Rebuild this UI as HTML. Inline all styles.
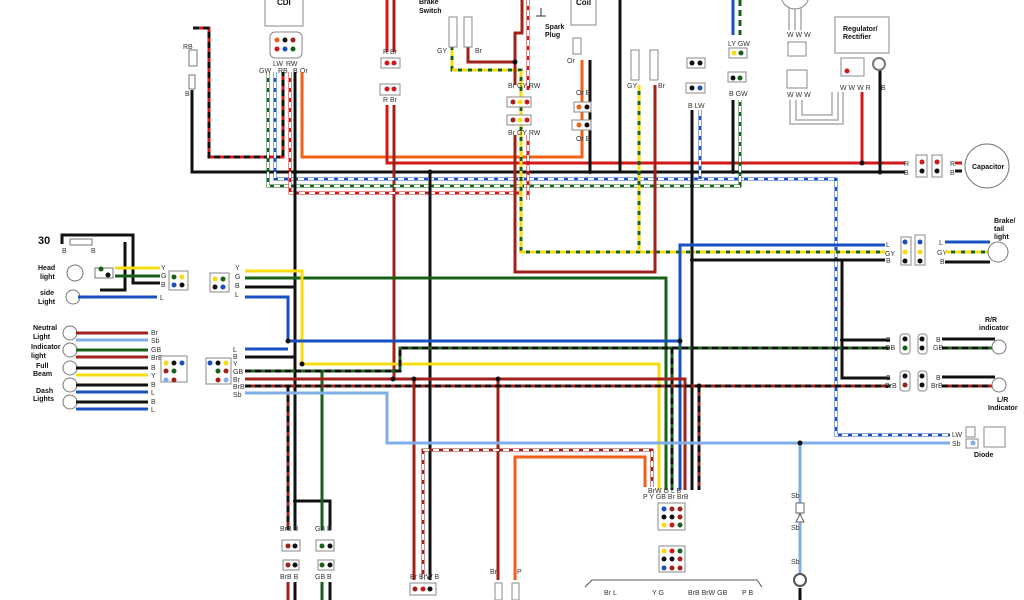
<!DOCTYPE html>
<html><head><meta charset="utf-8"><style>
html,body{margin:0;padding:0;background:#fff;}
svg{display:block}
text{font-family:"Liberation Sans",sans-serif;font-size:7px;fill:#333}
.b{font-weight:bold;font-size:8px;fill:#111}
path{fill:none;stroke-width:3}
.k{stroke:#111}.r{stroke:#d01818}.br{stroke:#a0201a}.o{stroke:#f06018}.y{stroke:#f8dc10}.g{stroke:#186018}.l{stroke:#1850c0}.sb{stroke:#80aee8}
.d{stroke-dasharray:6 4}
.wd{stroke:#fff;stroke-dasharray:6 4;stroke-width:2}
.t{stroke:#aaa;stroke-width:1.5}
</style></head><body>
<svg width="1024" height="600" viewBox="0 0 1024 600">
<!-- CDI -->
<rect x="265" y="-2" width="38" height="28" fill="#fff" stroke="#888"/>
<text x="277" y="5" class="b">CDI</text>
<rect x="270" y="32" width="32" height="26" rx="5" fill="#fff" stroke="#888"/>
<circle cx="277" cy="40" r="2.5" fill="#f06018"/><circle cx="285" cy="40" r="2.5" fill="#111"/><circle cx="293" cy="40" r="2.5" fill="#a0201a"/>
<circle cx="277" cy="49" r="2.5" fill="#d01818"/><circle cx="285" cy="49" r="2.5" fill="#1850c0"/><circle cx="293" cy="49" r="2.5" fill="#186018"/>
<text x="273" y="66">LW</text><text x="286" y="66">RW</text>
<text x="259" y="73">GW</text><text x="278" y="73">RB</text><text x="293" y="73">B</text><text x="300" y="73">Or</text>

<!-- main buses -->
<path class="k" d="M192 90V172H905"/>
<path class="r" d="M193 28H209V157H283V72"/><path class="k d" d="M193 28H209V157H283V72"/>
<rect x="189" y="50" width="8" height="16" fill="#fff" stroke="#777"/><rect x="189" y="75" width="6" height="14" fill="#fff" stroke="#777"/>
<text x="183" y="49">RB</text><text x="185" y="96">B</text>
<path class="o" d="M302 72V157H582V60"/>
<path class="r" d="M387 105V163H905"/><path class="r" d="M387 0V52"/><path class="br" d="M394 0V52M394 105V379"/>
<path class="r" d="M862 92V163"/><path class="k" d="M880 70V172"/>
<path class="l" d="M275 72V179H836V435H950"/><path class="wd" d="M275 72V179H836V435H950"/>
<path class="l" d="M700 110V179"/><path class="wd" d="M700 110V179"/>
<path class="g" d="M268 72V186H740V100"/><path class="wd" d="M268 72V186H740V100"/>
<path class="r" d="M290 72V193H522"/><path class="wd" d="M290 72V193H522"/>
<path class="g" d="M452 20V70H521V252H885"/><path class="y d" d="M452 20V70H521V252H885"/>
<path class="g" d="M639 85V252"/><path class="y d" d="M639 85V252"/>
<path class="br" d="M468 20V62H515V33H522V0M515 62V85M515 135V272H655V85"/>
<path class="r" d="M528 0V90M528 135V200"/><path class="wd" d="M528 0V90M528 135V200"/>
<path class="k" d="M590 60V172M620 0V172M692 110V490M733 100V172M430 172V580"/>
<path class="k" d="M295 72V530M295 501H330V530"/>
<!-- middle -->
<path class="g" d="M245 278H666V490"/>
<path class="y" d="M245 271H302V364H659V490"/>
<path class="l" d="M245 297H288V341H680M245 349H288M680 490V245H885"/>
<path class="k" d="M692 260H885M842 260V378H890M842 340H890M245 287H295M245 357H295"/>
<path class="g" d="M245 371H400V348H890M672 348V490M322 371V530"/><path class="k d" d="M245 371H400V348H890M672 348V490"/>
<path class="br" d="M245 379H685V490M414 379V580M498 379V580"/>
<path class="br" d="M245 386H890M699 386V490M288 386V530"/><path class="k d" d="M245 386H890M699 386V490M288 386V530"/>
<path class="sb" d="M245 393H387V443H950M800 443V580"/>
<path class="br" d="M423 580V450H652V487"/><path class="wd" d="M423 580V450H652V487"/>
<path class="o" d="M515 580V457H645V487"/>
<g fill="#111"><circle cx="295" cy="172" r="2.5"/><circle cx="430" cy="172" r="2.5"/><circle cx="288" cy="341" r="2.5"/><circle cx="302" cy="364" r="2.5"/><circle cx="680" cy="341" r="2.5"/><circle cx="393" cy="379" r="2.5"/><circle cx="414" cy="379" r="2.5"/><circle cx="498" cy="379" r="2.5"/><circle cx="699" cy="386" r="2.5"/><circle cx="800" cy="443" r="2.5"/><circle cx="295" cy="501" r="2"/><circle cx="862" cy="163" r="2.5"/><circle cx="880" cy="172" r="2.5"/><circle cx="842" cy="340" r="2"/><circle cx="692" cy="260" r="2"/><circle cx="515" cy="62" r="2.5"/><circle cx="733" cy="172" r="2"/><circle cx="590" cy="172" r="2"/></g>

<!-- left lamps -->
<text x="38" y="244" style="font-size:11px;font-weight:bold;fill:#111">30</text>
<path class="k" d="M62 244V235H133V283H160M125 242V290H100"/>
<rect x="70" y="239" width="22" height="6" fill="#fff" stroke="#777"/>
<text x="62" y="253">B</text><text x="91" y="253">B</text>
<text x="38" y="270" class="b" style="font-size:7px">Head</text><text x="40" y="279" class="b" style="font-size:7px">light</text>
<circle cx="75" cy="273" r="8" fill="#fff" stroke="#777"/>
<path class="y" d="M115 268H160"/><path class="g" d="M115 276H160"/><text x="161" y="270">Y</text><text x="161" y="278">G</text><text x="161" y="287">B</text>
<rect x="95" y="268" width="18" height="10" fill="#fff" stroke="#777"/><circle cx="101" cy="269" r="2.5" fill="#186018"/><circle cx="108" cy="275" r="2.5" fill="#111"/>
<text x="40" y="295" class="b" style="font-size:7px">side</text><text x="38" y="304" class="b" style="font-size:7px">Light</text>
<circle cx="73" cy="297" r="7" fill="#fff" stroke="#777"/><path class="l" d="M78 297H157"/><text x="160" y="300">L</text>
<rect x="169" y="271" width="19" height="19" fill="#fff" stroke="#888"/>
<circle cx="174" cy="277" r="2.5" fill="#186018"/><circle cx="182" cy="277" r="2.5" fill="#f8dc10"/><circle cx="174" cy="285" r="2.5" fill="#1850c0"/><circle cx="182" cy="285" r="2.5" fill="#111"/>
<rect x="210" y="273" width="19" height="19" fill="#fff" stroke="#888"/>
<circle cx="215" cy="279" r="2.5" fill="#f8dc10"/><circle cx="223" cy="279" r="2.5" fill="#186018"/><circle cx="215" cy="287" r="2.5" fill="#111"/><circle cx="223" cy="287" r="2.5" fill="#1850c0"/>
<text x="235" y="270">Y</text><text x="235" y="279">G</text><text x="235" y="288">B</text><text x="235" y="297">L</text>

<text x="33" y="330" class="b" style="font-size:7px">Neutral</text><text x="33" y="339" class="b" style="font-size:7px">Light</text>
<text x="31" y="349" class="b" style="font-size:7px">Indicator</text><text x="31" y="358" class="b" style="font-size:7px">light</text>
<text x="36" y="368" class="b" style="font-size:7px">Full</text><text x="33" y="376" class="b" style="font-size:7px">Beam</text>
<text x="36" y="393" class="b" style="font-size:7px">Dash</text><text x="33" y="401" class="b" style="font-size:7px">Lights</text>
<g fill="#fff" stroke="#777"><circle cx="70" cy="333" r="7"/><circle cx="70" cy="350" r="7"/><circle cx="70" cy="368" r="7"/><circle cx="70" cy="385" r="7"/><circle cx="70" cy="402" r="7"/></g>
<path class="br" d="M76 333H148"/><path class="sb" d="M76 340H148"/>
<path class="g" d="M76 350H148"/><path class="br" d="M76 357H148"/>
<path class="k" d="M76 368H148M76 385H148M76 402H148"/><path class="y" d="M76 375H148"/>
<path class="l" d="M76 392H148M76 409H148"/>
<text x="151" y="335">Br</text><text x="151" y="343">Sb</text><text x="151" y="352">GB</text><text x="151" y="360">BrB</text><text x="151" y="370">B</text><text x="151" y="378">Y</text><text x="151" y="387">B</text><text x="151" y="395">L</text><text x="151" y="404">B</text><text x="151" y="412">L</text>
<rect x="161" y="356" width="26" height="26" fill="#fff" stroke="#888"/>
<circle cx="166" cy="363" r="2.5" fill="#f8dc10"/><circle cx="174" cy="363" r="2.5" fill="#111"/><circle cx="182" cy="363" r="2.5" fill="#1850c0"/>
<circle cx="166" cy="371" r="2.5" fill="#a0201a"/><circle cx="174" cy="371" r="2.5" fill="#186018"/>
<circle cx="166" cy="380" r="2.5" fill="#80aee8"/><circle cx="174" cy="380" r="2.5" fill="#a0201a"/>
<rect x="206" y="358" width="25" height="26" fill="#fff" stroke="#888"/>
<circle cx="210" cy="363" r="2.5" fill="#1850c0"/><circle cx="218" cy="363" r="2.5" fill="#111"/><circle cx="226" cy="363" r="2.5" fill="#f8dc10"/>
<circle cx="218" cy="371" r="2.5" fill="#186018"/><circle cx="226" cy="371" r="2.5" fill="#a0201a"/>
<circle cx="218" cy="380" r="2.5" fill="#a0201a"/><circle cx="226" cy="380" r="2.5" fill="#80aee8"/>
<text x="233" y="352">L</text><text x="233" y="359">B</text><text x="233" y="366">Y</text><text x="233" y="374">GB</text><text x="233" y="382">Br</text><text x="233" y="389">BrB</text><text x="233" y="397">Sb</text>

<!-- top connectors -->
<rect x="381" y="58" width="19" height="10" fill="#fff" stroke="#888"/><circle cx="387" cy="63" r="2.5" fill="#d01818"/><circle cx="394" cy="63" r="2.5" fill="#d01818"/>
<rect x="380" y="84" width="20" height="11" fill="#fff" stroke="#888"/><circle cx="387" cy="89" r="2.5" fill="#d01818"/><circle cx="394" cy="89" r="2.5" fill="#d01818"/>
<text x="383" y="54">R Br</text><text x="383" y="102">R Br</text>
<text x="419" y="4" class="b" style="font-size:7px">Brake</text><text x="419" y="13" class="b" style="font-size:7px">Switch</text>
<rect x="449" y="17" width="8" height="30" fill="#fff" stroke="#888"/><rect x="464" y="17" width="8" height="30" fill="#fff" stroke="#888"/>
<text x="437" y="53">GY</text><text x="475" y="53">Br</text>
<text x="508" y="88">Br GY RW</text>
<rect x="507" y="97" width="24" height="10" fill="#fff" stroke="#888"/><circle cx="513" cy="102" r="2.5" fill="#a0201a"/><circle cx="520" cy="102" r="2.5" fill="#f8dc10"/><circle cx="527" cy="102" r="2.5" fill="#d01818"/>
<rect x="507" y="115" width="24" height="10" fill="#fff" stroke="#888"/><circle cx="513" cy="120" r="2.5" fill="#a0201a"/><circle cx="520" cy="120" r="2.5" fill="#f8dc10"/><circle cx="527" cy="120" r="2.5" fill="#d01818"/>
<text x="508" y="135">Br GY RW</text>
<text x="545" y="29" class="b" style="font-size:7px">Spark</text><text x="545" y="37" class="b" style="font-size:7px">Plug</text>
<path d="M541 8V16M536 16H546" style="stroke:#333;stroke-width:1"/>
<rect x="571" y="-2" width="25" height="27" fill="#fff" stroke="#888"/><text x="576" y="5" class="b">Coil</text>
<rect x="573" y="38" width="8" height="16" fill="#fff" stroke="#888"/>
<text x="567" y="63">Or</text><text x="576" y="95">Or B</text><text x="576" y="141">Or B</text>
<rect x="574" y="102" width="17" height="10" fill="#fff" stroke="#888"/><circle cx="579" cy="107" r="2.5" fill="#f06018"/><circle cx="587" cy="107" r="2.5" fill="#111"/>
<rect x="572" y="120" width="19" height="10" fill="#fff" stroke="#888"/><circle cx="579" cy="125" r="2.5" fill="#f06018"/><circle cx="587" cy="125" r="2.5" fill="#111"/>
<rect x="631" y="50" width="8" height="30" fill="#fff" stroke="#888"/><rect x="650" y="50" width="8" height="30" fill="#fff" stroke="#888"/>
<text x="627" y="88">GY</text><text x="658" y="88">Br</text>
<rect x="687" y="58" width="18" height="10" fill="#fff" stroke="#888"/><circle cx="692" cy="63" r="2.5" fill="#111"/><circle cx="700" cy="63" r="2.5" fill="#111"/>
<rect x="686" y="83" width="19" height="10" fill="#fff" stroke="#888"/><circle cx="692" cy="88" r="2.5" fill="#111"/><circle cx="700" cy="88" r="2.5" fill="#1850c0"/>
<text x="688" y="108">B LW</text>
<text x="728" y="46">LY GW</text>
<rect x="729" y="48" width="18" height="10" fill="#fff" stroke="#888"/><circle cx="734" cy="53" r="2.5" fill="#f8dc10"/><circle cx="741" cy="53" r="2.5" fill="#186018"/>
<rect x="728" y="72" width="18" height="10" fill="#fff" stroke="#888"/><circle cx="733" cy="78" r="2.5" fill="#111"/><circle cx="740" cy="78" r="2.5" fill="#186018"/>
<text x="729" y="96">B GW</text>
<path class="l" d="M733 0V35"/><path class="g d" d="M740 0V35"/>
<!-- regulator -->
<circle cx="795" cy="-5" r="14" fill="#fff" stroke="#888"/>
<path class="t" d="M789 8V30M795 8V30M801 8V30"/>
<text x="787" y="37">W W W</text>
<rect x="788" y="42" width="18" height="14" fill="#fff" stroke="#888"/>
<rect x="787" y="70" width="20" height="18" fill="#fff" stroke="#888"/>
<text x="787" y="97">W W W</text>
<path class="t" d="M790 100V124H843V92M796 100V120H838V92M802 100V115H832V92"/>
<rect x="835" y="17" width="54" height="36" fill="#fff" stroke="#888"/>
<text x="843" y="31" class="b" style="font-size:7px">Regulator/</text><text x="843" y="39" class="b" style="font-size:7px">Rectifier</text>
<rect x="841" y="58" width="23" height="18" fill="#fff" stroke="#888"/><circle cx="847" cy="71" r="2.5" fill="#d01818"/>
<circle cx="879" cy="64" r="6" fill="#fff" stroke="#777" stroke-width="2"/>
<text x="840" y="90">W W W R</text><text x="881" y="90">B</text>
<!-- capacitor -->
<text x="904" y="166">R</text><text x="904" y="175">B</text>
<rect x="916" y="155" width="11" height="22" fill="#fff" stroke="#888"/><circle cx="922" cy="162" r="2.5" fill="#d01818"/><circle cx="922" cy="171" r="2.5" fill="#111"/>
<rect x="932" y="155" width="10" height="22" fill="#fff" stroke="#888"/><circle cx="937" cy="162" r="2.5" fill="#d01818"/><circle cx="937" cy="171" r="2.5" fill="#111"/>
<text x="950" y="166">R</text><text x="950" y="175">B</text>
<path class="r" d="M955 163H962"/><path class="k" d="M955 171H962"/>
<circle cx="987" cy="166" r="22" fill="#fff" stroke="#777"/><text x="972" y="169" class="b" style="font-size:7px">Capacitor</text>
<!-- brake tail -->
<text x="886" y="247">L</text><text x="885" y="256">GY</text><text x="886" y="263">B</text>
<rect x="901" y="237" width="10" height="28" fill="#fff" stroke="#888"/><circle cx="905" cy="242" r="2.5" fill="#1850c0"/><circle cx="905" cy="252" r="2.5" fill="#f8dc10"/><circle cx="905" cy="261" r="2.5" fill="#111"/>
<rect x="915" y="235" width="10" height="30" fill="#fff" stroke="#888"/><circle cx="920" cy="242" r="2.5" fill="#1850c0"/><circle cx="920" cy="252" r="2.5" fill="#f8dc10"/><circle cx="920" cy="261" r="2.5" fill="#111"/>
<text x="939" y="245">L</text><text x="937" y="255">GY</text><text x="940" y="264">B</text>
<path class="l" d="M945 242H990"/><path class="g" d="M945 252H990"/><path class="y d" d="M945 252H990"/><path class="k" d="M945 262H990"/>
<circle cx="998" cy="252" r="10" fill="#fff" stroke="#777"/>
<text x="994" y="223" class="b" style="font-size:7px">Brake/</text><text x="994" y="231" class="b" style="font-size:7px">tail</text><text x="994" y="239" class="b" style="font-size:7px">light</text>
<!-- indicators -->
<text x="886" y="342">B</text><text x="885" y="350">GB</text>
<rect x="900" y="334" width="10" height="20" rx="3" fill="#fff" stroke="#888"/><circle cx="905" cy="339" r="2.5" fill="#111"/><circle cx="905" cy="348" r="2.5" fill="#186018"/>
<rect x="918" y="334" width="9" height="20" rx="3" fill="#fff" stroke="#888"/><circle cx="922" cy="339" r="2.5" fill="#111"/><circle cx="922" cy="348" r="2.5" fill="#111"/>
<text x="936" y="342">B</text><text x="933" y="350">GB</text>
<path class="k" d="M942 339H995"/><path class="g" d="M942 348H992"/><path class="k d" d="M942 348H992"/>
<circle cx="999" cy="347" r="7" fill="#fff" stroke="#777"/>
<text x="985" y="322" class="b" style="font-size:7px">R/R</text><text x="979" y="330" class="b" style="font-size:7px">indicator</text>
<text x="886" y="380">B</text><text x="885" y="388">BrB</text>
<rect x="900" y="371" width="10" height="20" rx="3" fill="#fff" stroke="#888"/><circle cx="905" cy="376" r="2.5" fill="#111"/><circle cx="905" cy="385" r="2.5" fill="#a0201a"/>
<rect x="918" y="371" width="9" height="20" rx="3" fill="#fff" stroke="#888"/><circle cx="922" cy="376" r="2.5" fill="#111"/><circle cx="922" cy="385" r="2.5" fill="#111"/>
<text x="936" y="380">B</text><text x="931" y="388">BrB</text>
<path class="k" d="M942 377H995"/><path class="br" d="M942 386H992"/><path class="k d" d="M942 386H992"/>
<circle cx="999" cy="385" r="7" fill="#fff" stroke="#777"/>
<text x="997" y="402" class="b" style="font-size:7px">L/R</text><text x="988" y="410" class="b" style="font-size:7px">Indicator</text>
<text x="952" y="437">LW</text><text x="952" y="446">Sb</text>
<rect x="966" y="427" width="9" height="10" fill="#fff" stroke="#888"/><rect x="966" y="439" width="12" height="9" fill="#fff" stroke="#888"/><circle cx="973" cy="443" r="2.5" fill="#80aee8"/>
<rect x="984" y="427" width="21" height="20" fill="#fff" stroke="#888"/><text x="974" y="457" class="b" style="font-size:7px">Diode</text>
<!-- bottom connectors -->
<text x="280" y="531">BrB B</text><text x="315" y="531">GB B</text>
<rect x="282" y="540" width="18" height="11" fill="#fff" stroke="#888"/><circle cx="288" cy="546" r="2.5" fill="#a0201a"/><circle cx="295" cy="546" r="2.5" fill="#111"/>
<rect x="316" y="540" width="18" height="11" fill="#fff" stroke="#888"/><circle cx="322" cy="546" r="2.5" fill="#186018"/><circle cx="330" cy="546" r="2.5" fill="#111"/>
<rect x="283" y="560" width="16" height="10" fill="#fff" stroke="#888"/><circle cx="288" cy="565" r="2.5" fill="#a0201a"/><circle cx="295" cy="565" r="2.5" fill="#111"/>
<rect x="318" y="560" width="16" height="10" fill="#fff" stroke="#888"/><circle cx="322" cy="565" r="2.5" fill="#186018"/><circle cx="330" cy="565" r="2.5" fill="#111"/>
<text x="280" y="579">BrB B</text><text x="315" y="579">GB B</text>
<path class="br" d="M288 582V600"/><path class="k" d="M295 582V600M330 582V600"/><path class="g" d="M322 582V600"/>
<text x="410" y="579">Br BrW B</text>
<rect x="410" y="583" width="26" height="12" fill="#fff" stroke="#888"/><circle cx="415" cy="589" r="2.5" fill="#a0201a"/><circle cx="423" cy="589" r="2.5" fill="#d01818"/><circle cx="430" cy="589" r="2.5" fill="#111"/>
<text x="490" y="574">Br</text><text x="517" y="574">P</text>
<rect x="495" y="583" width="7" height="17" fill="#fff" stroke="#888"/><rect x="512" y="583" width="7" height="17" fill="#fff" stroke="#888"/>
<text x="648" y="493">BrW G  L  B</text>
<text x="643" y="499">P   Y  GB  Br    BrB</text>
<rect x="658" y="503" width="27" height="27" fill="#fff" stroke="#888"/>
<circle cx="664" cy="509" r="2.5" fill="#1850c0"/><circle cx="672" cy="509" r="2.5" fill="#a0201a"/><circle cx="680" cy="509" r="2.5" fill="#a0201a"/>
<circle cx="664" cy="517" r="2.5" fill="#111"/><circle cx="672" cy="517" r="2.5" fill="#111"/><circle cx="680" cy="517" r="2.5" fill="#a0201a"/>
<circle cx="664" cy="525" r="2.5" fill="#f8dc10"/><circle cx="672" cy="525" r="2.5" fill="#d01818"/><circle cx="680" cy="525" r="2.5" fill="#186018"/>
<rect x="659" y="546" width="26" height="26" fill="#fff" stroke="#888"/>
<circle cx="664" cy="551" r="2.5" fill="#f8dc10"/><circle cx="672" cy="551" r="2.5" fill="#d01818"/><circle cx="680" cy="551" r="2.5" fill="#186018"/>
<circle cx="664" cy="559" r="2.5" fill="#111"/><circle cx="672" cy="559" r="2.5" fill="#111"/><circle cx="680" cy="559" r="2.5" fill="#a0201a"/>
<circle cx="664" cy="568" r="2.5" fill="#1850c0"/><circle cx="672" cy="568" r="2.5" fill="#a0201a"/><circle cx="680" cy="568" r="2.5" fill="#a0201a"/>
<path d="M585 587L592 580H757L762 587" style="stroke:#555;stroke-width:1"/>
<text x="604" y="595">Br L</text><text x="652" y="595">Y  G</text><text x="688" y="595">BrB BrW GB</text><text x="742" y="595">P  B</text>
<text x="791" y="498">Sb</text><text x="791" y="530">Sb</text><text x="791" y="564">Sb</text>
<rect x="796" y="503" width="8" height="10" fill="#fff" stroke="#666"/>
<path d="M800 514L796 522H804Z" style="fill:#fff;stroke:#666;stroke-width:1"/>
<circle cx="800" cy="580" r="6" fill="#fff" stroke="#555" stroke-width="2"/>
<path class="k" d="M800 588V600"/>
</svg>
</body></html>
